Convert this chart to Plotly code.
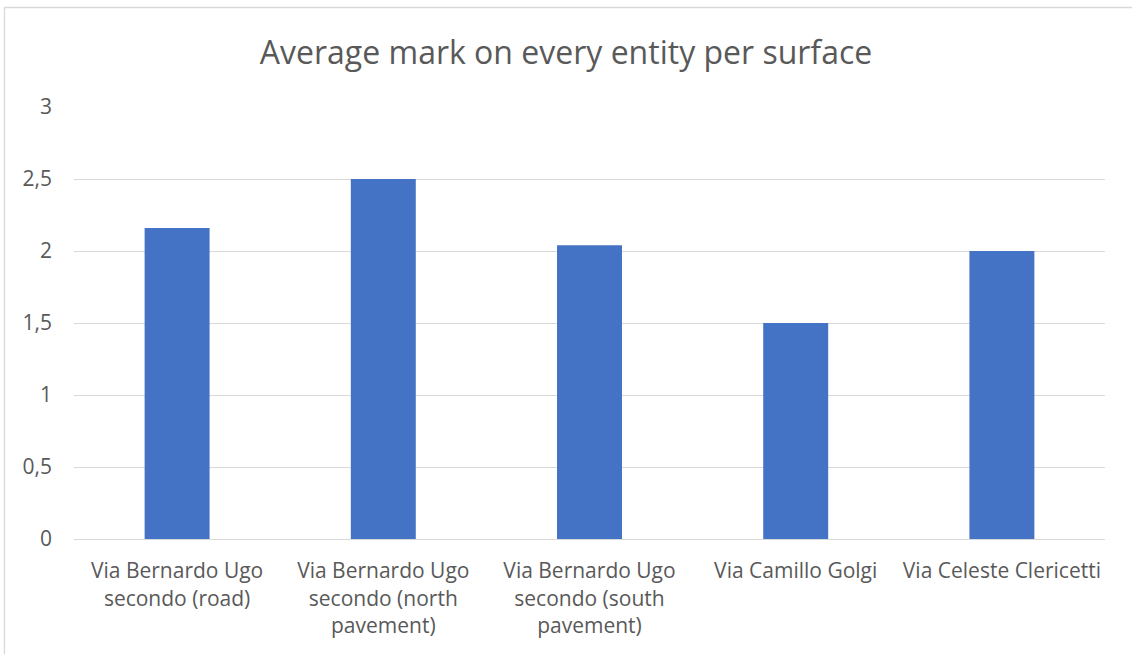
import plotly.graph_objects as go

categories = [
    "Via Bernardo Ugo<br>secondo (road)",
    "Via Bernardo Ugo<br>secondo (north<br>pavement)",
    "Via Bernardo Ugo<br>secondo (south<br>pavement)",
    "Via Camillo Golgi",
    "Via Celeste Clericetti",
]
values = [2.16, 2.5, 2.04, 1.5, 2.0]
tick_vals = [0, 0.5, 1, 1.5, 2, 2.5, 3]
tick_text = ["0", "0,5", "1", "1,5", "2", "2,5", "3"]
title_text = "Average mark on every entity per surface"

W, H = 1132, 654
L, R, T, B = 74, 27, 107, 115
pw, ph = W - L - R, H - T - B

fig = go.Figure()
fig.add_trace(go.Bar(x=categories, y=values, marker=dict(color="#4472C4", line=dict(width=0)),
                     width=0.315))

def px_x(v):
    return (v - L) / pw
def px_y(v):
    return (H - B - v) / ph

fig.add_shape(type="path", xref="paper", yref="paper",
              path=f"M {px_x(4.5)} {px_y(H+5)} L {px_x(4.5)} {px_y(7.5)} L {px_x(W+10)} {px_y(7.5)}",
              line=dict(color="#d9d9d9", width=1.3), layer="below")

fig.update_layout(
    width=W, height=H,
    margin=dict(l=L, r=R, t=T, b=B),
    paper_bgcolor="white", plot_bgcolor="white",
    font=dict(family="Open Sans", color="#595959", size=21),
    title=dict(text=title_text, x=0.5, xanchor="center", y=1 - 53 / H, yanchor="middle",
               yref="container", font=dict(size=32, color="#595959", family="Open Sans")),
    showlegend=False,
    bargap=0.685,
)
fig.update_xaxes(showgrid=False, showline=True, linecolor="#d9d9d9", linewidth=1.3,
                 ticks="", tickangle=0, ticklabelstandoff=13,
                 tickfont=dict(size=21, color="#595959"))
fig.update_yaxes(range=[0, 3], tickvals=tick_vals, ticktext=tick_text,
                 showgrid=True, gridcolor="#d9d9d9", gridwidth=1.3,
                 zeroline=False, showline=False, ticks="", ticklabelstandoff=21,
                 tickfont=dict(size=21, color="#595959"))

fig.write_html("out.html", config={"displayModeBar": False},
               post_script="document.body.style.margin='0';document.body.style.overflow='hidden';")
